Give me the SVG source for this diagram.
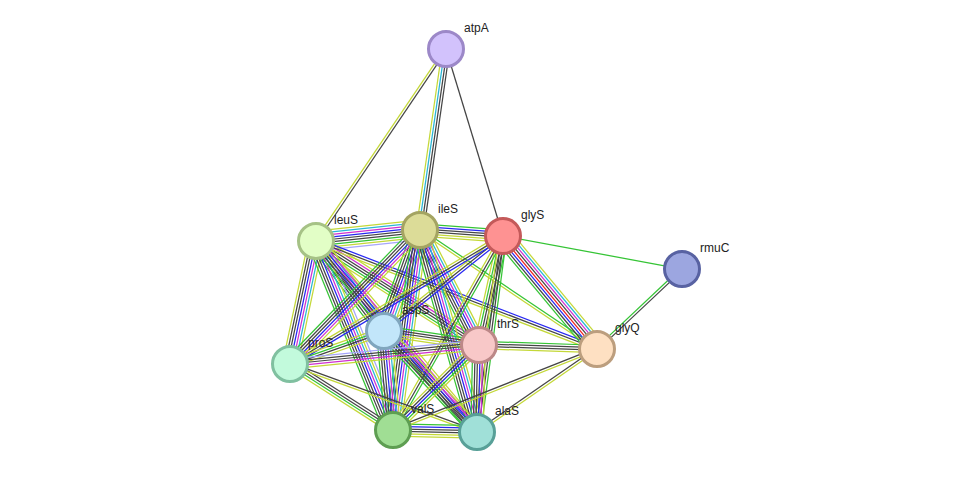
<svg xmlns="http://www.w3.org/2000/svg" width="976" height="478" viewBox="0 0 976 478">
<style>
line{stroke-width:1;fill:none}
.N{stroke:#35c435}.F{stroke:#f02020}.C{stroke:#2828f2}.X{stroke:#454545}
.E{stroke:#d030d0}.D{stroke:#2ab6d6}.T{stroke:#c4d838}.H{stroke:#a6a6fa}
circle{stroke-width:3}
text{font-family:"Liberation Sans",Arial,sans-serif;font-size:12px;fill:#222}
</style>
<rect width="976" height="478" fill="#fff"/>
<g id="edges">
<g transform="translate(446 49) rotate(124.1) scale(1 1.25)"><line x2="231.9" y1="-1" y2="-1" class="X"/><line x2="231.9" y1="1" y2="1" class="T"/></g>
<g transform="translate(446 49) rotate(98.2) scale(1 1.25)"><line x2="182.9" y1="-3" y2="-3" class="X"/><line x2="182.9" y1="-1" y2="-1" class="X"/><line x2="182.9" y1="1" y2="1" class="D"/><line x2="182.9" y1="3" y2="3" class="T"/></g>
<g transform="translate(446 49) rotate(73.05) scale(1 1.25)"><line x2="195.5" class="X"/></g>
<g transform="translate(503 236) rotate(10.45) scale(1 1.25)"><line x2="182" class="N"/></g>
<g transform="translate(597 349) rotate(-43.3) scale(1 1.25)"><line x2="116.7" y1="-1" y2="-1" class="N"/><line x2="116.7" y1="1" y2="1" class="X"/></g>
<g transform="translate(316 241) rotate(-6.04) scale(1 1.25)"><line x2="104.6" y1="-8" y2="-8" class="T"/><line x2="104.6" y1="-6" y2="-6" class="D"/><line x2="104.6" y1="-4" y2="-4" class="E"/><line x2="104.6" y1="-2" y2="-2" class="C"/><line x2="104.6" class="X"/><line x2="104.6" y1="2" y2="2" class="X"/><line x2="104.6" y1="4" y2="4" class="N"/><line x2="104.6" y1="6" y2="6" class="T"/><line x2="104.6" y1="8" y2="8" class="H"/></g>
<g transform="translate(420 230) rotate(4.13) scale(1 1.25)"><line x2="83.2" y1="-5" y2="-5" class="N"/><line x2="83.2" y1="-3" y2="-3" class="C"/><line x2="83.2" y1="-1" y2="-1" class="X"/><line x2="83.2" y1="1" y2="1" class="X"/><line x2="83.2" y1="3" y2="3" class="T"/><line x2="83.2" y1="5" y2="5" class="T"/></g>
<g transform="translate(316 241) rotate(52.9) scale(1 1.25)"><line x2="112.8" y1="-6" y2="-6" class="T"/><line x2="112.8" y1="-4" y2="-4" class="D"/><line x2="112.8" y1="-2" y2="-2" class="E"/><line x2="112.8" class="C"/><line x2="112.8" y1="2" y2="2" class="X"/><line x2="112.8" y1="4" y2="4" class="X"/><line x2="112.8" y1="6" y2="6" class="N"/></g>
<g transform="translate(316 241) rotate(32.54) scale(1 1.25)"><line x2="193.4" y1="-5" y2="-5" class="T"/><line x2="193.4" y1="-3" y2="-3" class="E"/><line x2="193.4" y1="-1" y2="-1" class="X"/><line x2="193.4" y1="1" y2="1" class="X"/><line x2="193.4" y1="3" y2="3" class="N"/><line x2="193.4" y1="5" y2="5" class="T"/></g>
<g transform="translate(316 241) rotate(101.9) scale(1 1.25)"><line x2="125.7" y1="-6" y2="-6" class="T"/><line x2="125.7" y1="-4" y2="-4" class="D"/><line x2="125.7" y1="-2" y2="-2" class="E"/><line x2="125.7" class="C"/><line x2="125.7" y1="2" y2="2" class="X"/><line x2="125.7" y1="4" y2="4" class="X"/><line x2="125.7" y1="6" y2="6" class="T"/></g>
<g transform="translate(316 241) rotate(67.83) scale(1 1.25)"><line x2="204.1" y1="-7" y2="-7" class="H"/><line x2="204.1" y1="-5" y2="-5" class="T"/><line x2="204.1" y1="-3" y2="-3" class="D"/><line x2="204.1" y1="-1" y2="-1" class="E"/><line x2="204.1" y1="1" y2="1" class="C"/><line x2="204.1" y1="3" y2="3" class="X"/><line x2="204.1" y1="5" y2="5" class="X"/><line x2="204.1" y1="7" y2="7" class="N"/></g>
<g transform="translate(316 241) rotate(49.87) scale(1 1.25)"><line x2="249.8" y1="-5" y2="-5" class="T"/><line x2="249.8" y1="-3" y2="-3" class="E"/><line x2="249.8" y1="-1" y2="-1" class="C"/><line x2="249.8" y1="1" y2="1" class="X"/><line x2="249.8" y1="3" y2="3" class="X"/><line x2="249.8" y1="5" y2="5" class="N"/></g>
<g transform="translate(316 241) rotate(21.02) scale(1 1.25)"><line x2="301" y1="-2" y2="-2" class="C"/><line x2="301" class="X"/><line x2="301" y1="2" y2="2" class="T"/></g>
<g transform="translate(420 230) rotate(109.6) scale(1 1.25)"><line x2="107.2" y1="-6" y2="-6" class="T"/><line x2="107.2" y1="-4" y2="-4" class="D"/><line x2="107.2" y1="-2" y2="-2" class="E"/><line x2="107.2" class="C"/><line x2="107.2" y1="2" y2="2" class="X"/><line x2="107.2" y1="4" y2="4" class="X"/><line x2="107.2" y1="6" y2="6" class="N"/></g>
<g transform="translate(420 230) rotate(62.84) scale(1 1.25)"><line x2="129.3" y1="-6" y2="-6" class="T"/><line x2="129.3" y1="-4" y2="-4" class="D"/><line x2="129.3" y1="-2" y2="-2" class="E"/><line x2="129.3" class="C"/><line x2="129.3" y1="2" y2="2" class="X"/><line x2="129.3" y1="4" y2="4" class="X"/><line x2="129.3" y1="6" y2="6" class="N"/></g>
<g transform="translate(420 230) rotate(134.1) scale(1 1.25)"><line x2="186.7" y1="-5" y2="-5" class="T"/><line x2="186.7" y1="-3" y2="-3" class="E"/><line x2="186.7" y1="-1" y2="-1" class="C"/><line x2="186.7" y1="1" y2="1" class="X"/><line x2="186.7" y1="3" y2="3" class="X"/><line x2="186.7" y1="5" y2="5" class="N"/></g>
<g transform="translate(420 230) rotate(97.7) scale(1 1.25)"><line x2="201.8" y1="-6" y2="-6" class="T"/><line x2="201.8" y1="-4" y2="-4" class="D"/><line x2="201.8" y1="-2" y2="-2" class="E"/><line x2="201.8" class="C"/><line x2="201.8" y1="2" y2="2" class="X"/><line x2="201.8" y1="4" y2="4" class="X"/><line x2="201.8" y1="6" y2="6" class="N"/></g>
<g transform="translate(420 230) rotate(74.24) scale(1 1.25)"><line x2="209.9" y1="-6" y2="-6" class="T"/><line x2="209.9" y1="-4" y2="-4" class="D"/><line x2="209.9" y1="-2" y2="-2" class="E"/><line x2="209.9" class="C"/><line x2="209.9" y1="2" y2="2" class="X"/><line x2="209.9" y1="4" y2="4" class="X"/><line x2="209.9" y1="6" y2="6" class="N"/></g>
<g transform="translate(420 230) rotate(33.91) scale(1 1.25)"><line x2="213.3" y1="-1" y2="-1" class="N"/><line x2="213.3" y1="1" y2="1" class="T"/></g>
<g transform="translate(503 236) rotate(141.4) scale(1 1.25)"><line x2="152.3" y1="-2" y2="-2" class="C"/><line x2="152.3" class="X"/><line x2="152.3" y1="2" y2="2" class="T"/></g>
<g transform="translate(503 236) rotate(102.4) scale(1 1.25)"><line x2="111.6" y1="-4" y2="-4" class="N"/><line x2="111.6" y1="-2" y2="-2" class="X"/><line x2="111.6" class="X"/><line x2="111.6" y1="2" y2="2" class="N"/><line x2="111.6" y1="4" y2="4" class="T"/></g>
<g transform="translate(503 236) rotate(149) scale(1 1.25)"><line x2="248.5" y1="-2" y2="-2" class="C"/><line x2="248.5" class="X"/><line x2="248.5" y1="2" y2="2" class="T"/></g>
<g transform="translate(503 236) rotate(119.55) scale(1 1.25)"><line x2="223" y1="-2" y2="-2" class="N"/><line x2="223" class="X"/><line x2="223" y1="2" y2="2" class="T"/></g>
<g transform="translate(503 236) rotate(97.56) scale(1 1.25)"><line x2="197.7" y1="-3" y2="-3" class="N"/><line x2="197.7" y1="-1" y2="-1" class="X"/><line x2="197.7" y1="1" y2="1" class="X"/><line x2="197.7" y1="3" y2="3" class="T"/></g>
<g transform="translate(503 236) rotate(50.24) scale(1 1.25)"><line x2="147" y1="-7" y2="-7" class="T"/><line x2="147" y1="-5" y2="-5" class="D"/><line x2="147" y1="-3" y2="-3" class="E"/><line x2="147" y1="-1" y2="-1" class="X"/><line x2="147" y1="1" y2="1" class="F"/><line x2="147" y1="3" y2="3" class="C"/><line x2="147" y1="5" y2="5" class="X"/><line x2="147" y1="7" y2="7" class="N"/></g>
<g transform="translate(384 331) rotate(8.38) scale(1 1.25)"><line x2="96" y1="-4" y2="-4" class="N"/><line x2="96" y1="-2" y2="-2" class="X"/><line x2="96" class="X"/><line x2="96" y1="2" y2="2" class="T"/><line x2="96" y1="4" y2="4" class="T"/></g>
<g transform="translate(384 331) rotate(160.66) scale(1 1.25)"><line x2="99.6" y1="-3" y2="-3" class="T"/><line x2="99.6" y1="-1" y2="-1" class="X"/><line x2="99.6" y1="1" y2="1" class="N"/><line x2="99.6" y1="3" y2="3" class="T"/></g>
<g transform="translate(384 331) rotate(84.8) scale(1 1.25)"><line x2="99.4" y1="-6" y2="-6" class="T"/><line x2="99.4" y1="-4" y2="-4" class="D"/><line x2="99.4" y1="-2" y2="-2" class="E"/><line x2="99.4" class="C"/><line x2="99.4" y1="2" y2="2" class="X"/><line x2="99.4" y1="4" y2="4" class="X"/><line x2="99.4" y1="6" y2="6" class="N"/></g>
<g transform="translate(384 331) rotate(47.36) scale(1 1.25)"><line x2="137.3" y1="-5" y2="-5" class="T"/><line x2="137.3" y1="-3" y2="-3" class="E"/><line x2="137.3" y1="-1" y2="-1" class="C"/><line x2="137.3" y1="1" y2="1" class="X"/><line x2="137.3" y1="3" y2="3" class="X"/><line x2="137.3" y1="5" y2="5" class="N"/></g>
<g transform="translate(479 345) rotate(174.26) scale(1 1.25)"><line x2="190" y1="-4" y2="-4" class="T"/><line x2="190" y1="-2" y2="-2" class="E"/><line x2="190" class="X"/><line x2="190" y1="2" y2="2" class="X"/><line x2="190" y1="4" y2="4" class="H"/></g>
<g transform="translate(479 345) rotate(135.34) scale(1 1.25)"><line x2="120.9" y1="-4" y2="-4" class="T"/><line x2="120.9" y1="-2" y2="-2" class="N"/><line x2="120.9" class="C"/><line x2="120.9" y1="2" y2="2" class="X"/><line x2="120.9" y1="4" y2="4" class="T"/></g>
<g transform="translate(479 345) rotate(91.32) scale(1 1.25)"><line x2="87" y1="-5" y2="-5" class="T"/><line x2="87" y1="-3" y2="-3" class="E"/><line x2="87" y1="-1" y2="-1" class="C"/><line x2="87" y1="1" y2="1" class="X"/><line x2="87" y1="3" y2="3" class="X"/><line x2="87" y1="5" y2="5" class="N"/></g>
<g transform="translate(479 345) rotate(1.94) scale(1 1.25)"><line x2="118.1" y1="-3" y2="-3" class="N"/><line x2="118.1" y1="-1" y2="-1" class="X"/><line x2="118.1" y1="1" y2="1" class="X"/><line x2="118.1" y1="3" y2="3" class="T"/></g>
<g transform="translate(290 364) rotate(32.65) scale(1 1.25)"><line x2="122.3" y1="-3" y2="-3" class="X"/><line x2="122.3" y1="-1" y2="-1" class="X"/><line x2="122.3" y1="1" y2="1" class="N"/><line x2="122.3" y1="3" y2="3" class="T"/></g>
<g transform="translate(290 364) rotate(19.98) scale(1 1.25)"><line x2="199" y1="-1" y2="-1" class="X"/><line x2="199" y1="1" y2="1" class="T"/></g>
<g transform="translate(393 430) rotate(1.36) scale(1 1.25)"><line x2="84" y1="-5" y2="-5" class="N"/><line x2="84" y1="-3" y2="-3" class="C"/><line x2="84" y1="-1" y2="-1" class="X"/><line x2="84" y1="1" y2="1" class="X"/><line x2="84" y1="3" y2="3" class="T"/><line x2="84" y1="5" y2="5" class="T"/></g>
<g transform="translate(393 430) rotate(-21.65) scale(1 1.25)"><line x2="219.5" y1="-1" y2="-1" class="X"/><line x2="219.5" y1="1" y2="1" class="T"/></g>
<g transform="translate(477 432) rotate(-34.67) scale(1 1.25)"><line x2="145.9" y1="-1" y2="-1" class="X"/><line x2="145.9" y1="1" y2="1" class="T"/></g>
</g>
<g id="atpA"><circle cx="446" cy="49" r="17.5" fill="#d2c2fc" stroke="#9c88c8"/><text x="464" y="32">atpA</text></g>
<g id="leuS"><circle cx="316" cy="241" r="17.5" fill="#e2fec6" stroke="#a6c286"/><text x="334" y="224">leuS</text></g>
<g id="ileS"><circle cx="420" cy="230" r="17.5" fill="#dcdc98" stroke="#a4a462"/><text x="438" y="213">ileS</text></g>
<g id="glyS"><circle cx="503" cy="236" r="17.5" fill="#fe9292" stroke="#c45a5a"/><text x="521" y="219">glyS</text></g>
<g id="rmuC"><circle cx="682" cy="269" r="17.5" fill="#9ca6e0" stroke="#5862a2"/><text x="700" y="252">rmuC</text></g>
<g id="aspS"><circle cx="384" cy="331" r="17.5" fill="#c2e6fa" stroke="#80a6be"/><text x="402" y="314">aspS</text></g>
<g id="thrS"><circle cx="479" cy="345" r="17.5" fill="#f8c8c8" stroke="#bc8888"/><text x="497" y="328">thrS</text></g>
<g id="glyQ"><circle cx="597" cy="349" r="17.5" fill="#fee0c2" stroke="#bc9e7e"/><text x="615" y="332">glyQ</text></g>
<g id="proS"><circle cx="290" cy="364" r="17.5" fill="#c2fadc" stroke="#80c0a0"/><text x="308" y="347">proS</text></g>
<g id="valS"><circle cx="393" cy="430" r="17.5" fill="#a0de94" stroke="#5e9e52"/><text x="411" y="413">valS</text></g>
<g id="alaS"><circle cx="477" cy="432" r="17.5" fill="#a0e0d8" stroke="#58a098"/><text x="495" y="415">alaS</text></g>
</svg>
